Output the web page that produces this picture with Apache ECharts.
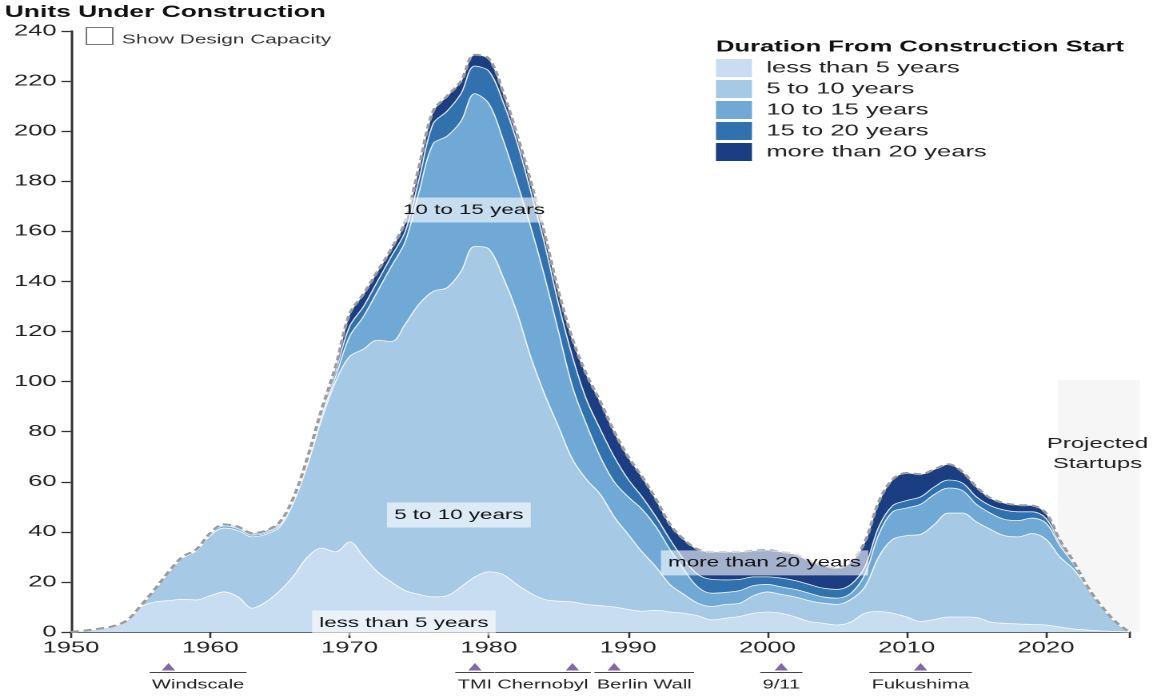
<!DOCTYPE html>
<html><head><meta charset="utf-8">
<script src="https://cdn.jsdelivr.net/npm/echarts@6/dist/echarts.min.js"></script>
<style>
html,body{margin:0;padding:0;background:#fff;overflow:hidden;}
#wrap{width:1153px;height:697px;overflow:hidden;position:relative;}
#chart{width:721px;height:697px;transform-origin:0 0;transform:scaleX(1.599167);}
</style></head><body><div id="wrap"><div id="chart"></div></div>
<script>
// ---------- data ----------
const years = [1950,1951,1952,1953,1954,1955,1956,1957,1958,1959,
  1960,1961,1962,1963,1964,1965,1966,1967,1968,1969,
  1970,1971,1972,1973,1974,1975,1976,1977,1978,1979,
  1980,1981,1982,1983,1984,1985,1986,1987,1988,1989,
  1990,1991,1992,1993,1994,1995,1996,1997,1998,1999,
  2000,2001,2002,2003,2004,2005,2006,2007,2008,2009,
  2010,2011,2012,2013,2014,2015,2016,2017,2018,2019,
  2020,2021,2022,2023,2024,2025,2026];
const lessThan5 = [0,0.6,1.3,2.3,4.5,10,12,12.5,13,12.8,
  14.5,16,14,9.5,12,16.5,22.5,30,33.5,32,
  36,30,24,20,16.5,15,14,14.5,18,22,
  24,23,19,15.5,13,12.3,12,11,10.5,10,
  9,8.3,8.7,8,7.5,6.5,4.8,5.5,6.2,7.5,
  8,7.5,6,4.2,3.5,2.8,4,7.5,8.2,7.5,
  6,4.2,5,6,6,5.8,4,3.5,3.2,3,
  2.8,2,1.2,0.8,0.4,0.2,0];
const fiveTo10 = [0,0,0,0,0.1,0.3,4.7,11.2,16.5,19.6,
  24,25.5,26.5,28.5,27,25.5,29.5,37,51.5,68,
  74,83,92.5,96,106.5,116,122,123,126,132,
  129,119,109,94.5,82,69.7,57,50,44.5,36,
  30,23.7,17.3,11,7.5,5,5.4,5.5,5.3,7,
  8,7.5,8,8.3,8,8.2,9,10.5,21.8,29.5,
  32.5,34.8,38,41.5,41.5,38.2,37,35,34.8,36.3,
  34.2,28,23.8,16.7,9.6,3.8,0];
const tenTo15 = [0,0,0,0,0,0.1,0.1,0.1,0.2,0.3,
  0.5,0.9,0.8,0.7,0.6,0.8,0.8,1,1.5,2,
  8,13,19.5,30,33,45,59,60.5,60,61,
  58,55,52,52,47,38,29,22,15,14,
  15,17,16,14,10,6.5,5.3,4.8,5,4,
  3,3,3,3,2.5,2.5,2.5,5,9,11,
  11,12,12,10,9,7,6.5,6.5,6.5,6.2,
  6.5,4.5,2,0.3,0.2,0.1,0];
const fifteenTo20 = [0,0,0,0,0,0,0.1,0.1,0.1,0.1,
  0.2,0.3,0.3,0.4,0.4,0.6,0.6,1,1.5,2,
  4,4,4,4,4,5,8,10,11,11,
  13,15,16,14,13,11,12,10,11,10,
  7,5,4,4,4,5,5.5,5,4.5,3.5,
  3,3.5,3.5,3.5,3.5,3.5,3.5,3,3,2.5,
  3,3,3,3.2,3,3,3,3.7,3.5,2.5,
  1.9,1,0.5,0.1,0.1,0,0];
const moreThan20 = [0,0,0,0,0,0.1,0.1,0.1,0.2,0.2,
  0.3,0.3,0.4,0.4,0.5,0.6,0.6,1,1,2,
  5,5,4,3,4,5,5,6,5,4.5,
  5,4,3,4,4,5,7,10,11,10,
  9,8,7,6,8,10,11,11.2,11,10.5,
  10.7,10.5,10.5,9.5,9,8.5,9,10,10,10.5,
  11,9,7,6.3,4.5,4,3,2.8,2.7,2.5,
  2.1,1.2,0.5,0.1,0,0,0];
const seriesNames = ['less than 5 years','5 to 10 years','10 to 15 years','15 to 20 years','more than 20 years'];
const eventNames = ['Windscale','TMI','Chernobyl','Berlin Wall','9/11','Fukushima'];
const eventYears = [1957,1979,1986,1989,2001,2011];
const yTicks = [0,240,20];

// ---------- layout / style ----------
const FONT = "'Liberation Sans', Arial, Helvetica, sans-serif";
const colors = ['#c8ddf1','#a6cae6','#70a9d6','#3172ae','#1a3e81'];
const eventLabelShift = [18.5, 0, -18.5, 18.8, 0, 0];
const areaLabelAnchors = [
  {text:'10 to 15 years', x:1978.93, y:168.5},
  {text:'5 to 10 years', x:1977.85, y:46.7},
  {text:'less than 5 years', x:1973.9, y:3.6},
  {text:'more than 20 years', x:1999.8, y:27.6}
];
const projected = {x0:2020.85, x1:2026.75, y1:100.6, textX:2023.7};

const layers = [lessThan5, fiveTo10, tenTo15, fifteenTo20, moreThan20];
const totals = years.map((y,i)=>+layers.reduce((s,a)=>s+a[i],0).toFixed(2));
const SMOOTH = 0.35;

const el = document.getElementById('chart');
const chart = echarts.init(el, null, {renderer:'canvas', devicePixelRatio:2});

const series = layers.map((arr,k)=>({
  name: seriesNames[k], type:'line', stack:'units', smooth:SMOOTH,
  showSymbol:false, silent:true,
  data: arr.slice(),
  itemStyle:{color:colors[k]},
  lineStyle:{color:'#ffffff', width:0.8, opacity:0.9},
  areaStyle:{color:colors[k], opacity:1}
}));
series.push({
  name:'total', type:'line', smooth:SMOOTH, showSymbol:false, silent:true, z:5,
  data: totals,
  lineStyle:{color:'#9c9c9c', width:2, type:[5,3]}
});

const axisColor = '#333';
const lastIdx = years.length-1;
chart.setOption({
  animation:false,
  textStyle:{fontFamily:FONT},
  title:[
    {text:'Units Under Construction', left:3, top:4, padding:0,
     textStyle:{fontSize:16.5, fontWeight:'bold', color:'#111', fontFamily:FONT}},
    {text:'Duration From Construction Start', left:447.7, top:39, padding:0,
     textStyle:{fontSize:16, fontWeight:'bold', color:'#111', fontFamily:FONT}}
  ],
  legend:{
    left:447.7, top:59, orient:'vertical', icon:'rect', itemWidth:22.5, itemHeight:18, itemGap:3,
    selectedMode:false, padding:0,
    textStyle:{fontSize:16, color:'#222', fontFamily:FONT, padding:[0,0,0,4]},
    data: seriesNames.map((n,k)=>({name:n, itemStyle:{color:colors[k]}}))
  },
  grid:{left:44.4, right:14.7, top:31, bottom:65},
  xAxis:{
    type:'category', data:years.map(String), boundaryGap:false,
    axisLine:{lineStyle:{color:axisColor, width:1.5}},
    axisTick:{length:6, interval:(i,v)=> (+v)%10===0 || i===lastIdx, lineStyle:{color:axisColor, width:1.3}},
    axisLabel:{fontSize:16, color:'#222', margin:8, fontFamily:FONT, interval:(i,v)=> (+v)%10===0},
    splitLine:{show:false}
  },
  yAxis:{
    type:'value', min:yTicks[0], max:yTicks[1], interval:yTicks[2],
    axisLine:{show:true, lineStyle:{color:axisColor, width:1.5}},
    axisTick:{show:true, length:6, lineStyle:{color:axisColor, width:1.3}},
    axisLabel:{fontSize:16, color:'#222', margin:9, fontFamily:FONT},
    splitLine:{show:false}
  },
  series: series
});

// ---------- overlay graphics computed through the axes ----------
const X0 = chart.convertToPixel({xAxisIndex:0}, String(years[0]));
const X1 = chart.convertToPixel({xAxisIndex:0}, String(years[lastIdx]));
const PX = yr => X0 + (yr - years[0]) / (years[lastIdx] - years[0]) * (X1 - X0);
const PY = v => chart.convertToPixel({yAxisIndex:0}, v);
const mctx = document.createElement('canvas').getContext('2d');
function tw(t, font){ mctx.font = font; return mctx.measureText(t).width; }

const g = [];
const rx0 = PX(projected.x0), rx1 = PX(projected.x1), ry0 = PY(0), ry1 = PY(projected.y1);
g.push({type:'rect', z:-1, silent:true,
  shape:{x:rx0, y:ry1, width:rx1-rx0, height:ry0-ry1}, style:{fill:'#f6f6f6'}});
g.push({type:'text', z:100, silent:true,
  style:{text:'Projected\nStartups', x:PX(projected.textX), y:454, align:'center', verticalAlign:'middle',
    font:'15px '+FONT, fill:'#222', lineHeight:20}});

g.push({type:'rect', z:100, silent:true, shape:{x:54, y:27.5, width:16.5, height:17},
  style:{fill:'#fff', stroke:'#777', lineWidth:1}});
g.push({type:'text', z:100, silent:true,
  style:{text:'Show Design Capacity', x:76.3, y:40, verticalAlign:'middle', font:'13px '+FONT, fill:'#333'}});

areaLabelAnchors.forEach(a=>{
  g.push({type:'text', z:50, silent:true,
    style:{text:a.text, x:PX(a.x), y:PY(a.y), align:'center', verticalAlign:'middle', font:'14px '+FONT,
      fill:'#111', backgroundColor:'rgba(255,255,255,0.6)', padding:[4,4.5,4,4.5], lineHeight:17}});
});

const evFont = '12.5px '+FONT;
eventNames.forEach((n,i)=>{
  const cx = PX(eventYears[i]);
  g.push({type:'polygon', z:100, silent:true,
    shape:{points:[[cx-4.2,670.5],[cx+4.2,670.5],[cx,663]]}, style:{fill:'#8466ab'}});
  const lx = cx + eventLabelShift[i];
  const w = tw(n, evFont);
  g.push({type:'line', z:100, silent:true,
    shape:{x1:lx-w/2-1.5, y1:672.5, x2:lx+w/2+1.5, y2:672.5}, style:{stroke:'#444', lineWidth:1}});
  g.push({type:'text', z:100, silent:true,
    style:{text:n, x:lx, y:685, align:'center', verticalAlign:'middle', font:evFont, fill:'#222'}});
});
chart.setOption({graphic:g});
</script></body></html>
